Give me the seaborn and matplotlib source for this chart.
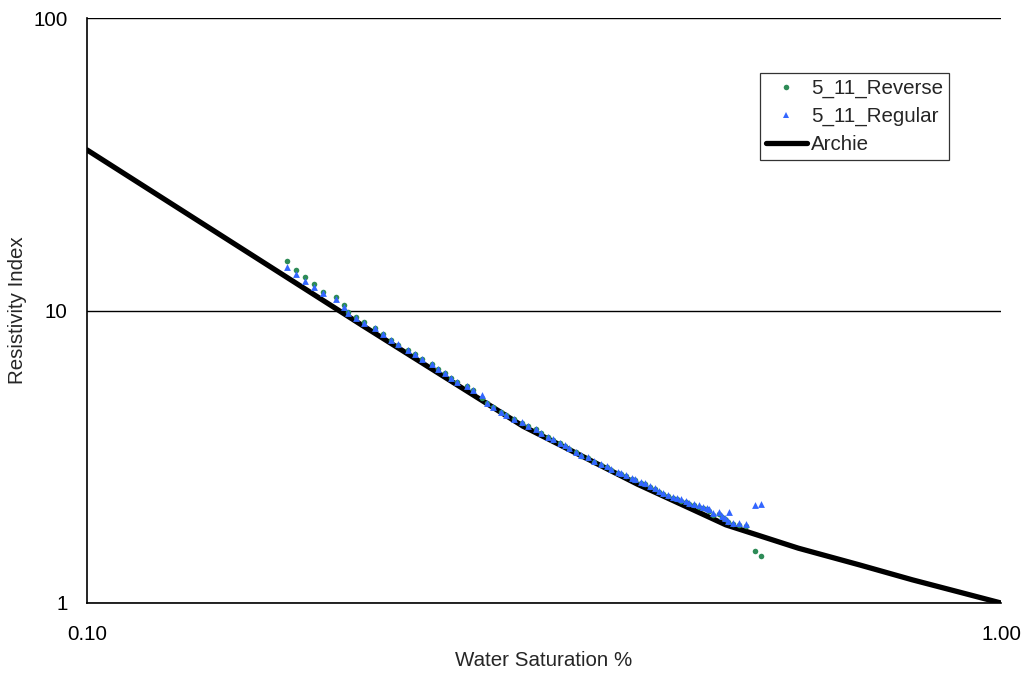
import matplotlib
matplotlib.use("Agg")
import matplotlib.pyplot as plt
import seaborn as sns
import pandas as pd
from matplotlib.ticker import FixedLocator, FixedFormatter, NullFormatter
from matplotlib.lines import Line2D

# ---- data ----
sw_regular = [0.1654, 0.1693, 0.1732, 0.1772, 0.1811, 0.1873, 0.1911, 0.1930, 0.1969, 0.2009,
              0.2067, 0.2109, 0.2149, 0.2189, 0.2247, 0.2285, 0.2326, 0.2385, 0.2423, 0.2464,
              0.2502, 0.2542, 0.2603, 0.2642, 0.2703, 0.2742, 0.2779, 0.2838, 0.2874, 0.2935,
              0.2995, 0.3036, 0.3097, 0.3136, 0.3192, 0.3232, 0.3292, 0.3331, 0.3370, 0.3428,
              0.3471, 0.3530, 0.3587, 0.3648, 0.3709, 0.3744, 0.3807, 0.3839, 0.3885, 0.3948,
              0.3981, 0.4038, 0.4082, 0.4130, 0.4179, 0.4222, 0.4271, 0.4325, 0.4380, 0.4424,
              0.4462, 0.4522, 0.4560, 0.4614, 0.4676, 0.4716, 0.4764, 0.4796, 0.4844, 0.4914,
              0.4947, 0.4989, 0.5030, 0.5043, 0.5086, 0.5168, 0.5260, 0.5382, 0.5463]
ri_regular = [14.12, 13.33, 12.64, 12.00, 11.45, 10.92, 10.28, 9.81, 9.45, 9.08,
              8.73, 8.29, 7.93, 7.66, 7.33, 7.09, 6.81, 6.55, 6.31, 6.13,
              5.89, 5.71, 5.52, 5.35, 5.14, 4.84, 4.67, 4.51, 4.39, 4.26,
              4.15, 4.04, 3.93, 3.82, 3.70, 3.63, 3.53, 3.46, 3.38, 3.29,
              3.21, 3.15, 3.06, 2.99, 2.94, 2.87, 2.81, 2.79, 2.74, 2.68,
              2.65, 2.60, 2.57, 2.51, 2.47, 2.42, 2.38, 2.34, 2.30, 2.28,
              2.26, 2.24, 2.20, 2.18, 2.16, 2.13, 2.12, 2.09, 2.03, 2.04,
              1.99, 1.95, 1.91, 2.05, 1.87, 1.87, 1.86, 2.16, 2.18]

sw_reverse = [0.1654, 0.1693, 0.1732, 0.1772, 0.1811, 0.1873, 0.1911, 0.1930, 0.1969, 0.2009,
              0.2067, 0.2109, 0.2149, 0.2189, 0.2247, 0.2285, 0.2326, 0.2385, 0.2423, 0.2464,
              0.2502, 0.2542, 0.2603, 0.2642, 0.2703, 0.2742, 0.2779, 0.2838, 0.2874, 0.2935,
              0.2995, 0.3036, 0.3097, 0.3136, 0.3192, 0.3232, 0.3292, 0.3331, 0.3370, 0.3428,
              0.3471, 0.3530, 0.3587, 0.3648, 0.3709, 0.3744, 0.3807, 0.3839, 0.3885, 0.3948,
              0.3981, 0.4038, 0.4082, 0.4130, 0.4179, 0.4222, 0.4271, 0.4325, 0.4380, 0.4424,
              0.4462, 0.4522, 0.4560, 0.4614, 0.4676, 0.4716, 0.4764, 0.4796, 0.4844, 0.4914,
              0.4947, 0.4989, 0.5030, 0.5086, 0.5168, 0.5260, 0.5382, 0.5463]
ri_reverse = [14.80, 13.76, 12.99, 12.29, 11.60, 11.08, 10.44, 9.91, 9.47, 9.10,
              8.74, 8.30, 7.92, 7.64, 7.32, 7.08, 6.80, 6.54, 6.30, 6.12,
              5.88, 5.70, 5.51, 5.33, 5.01, 4.83, 4.66, 4.50, 4.38, 4.25,
              4.14, 4.03, 3.92, 3.81, 3.69, 3.62, 3.52, 3.44, 3.36, 3.27,
              3.19, 3.13, 3.04, 2.97, 2.92, 2.85, 2.79, 2.77, 2.72, 2.66,
              2.63, 2.58, 2.55, 2.49, 2.45, 2.40, 2.36, 2.32, 2.28, 2.26,
              2.24, 2.21, 2.18, 2.16, 2.13, 2.11, 2.09, 2.06, 2.00, 2.01,
              1.97, 1.93, 1.89, 1.86, 1.85, 1.84, 1.51, 1.45]

sw_archie = [0.1, 0.2, 0.3, 0.4, 0.5, 0.6, 0.7, 0.8, 0.9, 1.0]
ri_archie = [35.4, 8.9, 4.02, 2.55, 1.85, 1.54, 1.35, 1.20, 1.09, 1.0]

x_ticks = [0.1, 1.0]
x_tick_labels = ["0.10", "1.00"]
y_ticks = [1, 10, 100]
y_tick_labels = ["1", "10", "100"]

series_names = ["5_11_Reverse", "5_11_Regular", "Archie"]
GREEN = "#2e8b57"
BLUE = "#3366ff"

# ---- plot ----
sns.set_style("white")
plt.rcParams["font.family"] = ["Liberation Sans", "DejaVu Sans"]
FS = 14.8

df_rev = pd.DataFrame({"Sw": sw_reverse, "RI": ri_reverse})
df_reg = pd.DataFrame({"Sw": sw_regular, "RI": ri_regular})
df_arc = pd.DataFrame({"Sw": sw_archie, "RI": ri_archie})

fig = plt.figure(figsize=(10.21, 6.73), dpi=100)
ax = fig.add_axes([87 / 1021, 1 - 603 / 673, 914 / 1021, 585 / 673])

ax.set_xscale("log")
ax.set_yscale("log")

sns.lineplot(data=df_arc, x="Sw", y="RI", sort=False, estimator=None, color="black",
             linewidth=3.8, ax=ax, zorder=2, legend=False)
sns.scatterplot(data=df_rev, x="Sw", y="RI", marker="o", color=GREEN, s=16,
                linewidth=0, ax=ax, zorder=3, legend=False)
sns.scatterplot(data=df_reg, x="Sw", y="RI", marker="^", color=BLUE, s=24,
                linewidth=0, ax=ax, zorder=4, legend=False)

ax.set_xlim(0.1, 1.0)
ax.set_ylim(1, 100)

ax.xaxis.set_major_locator(FixedLocator(x_ticks))
ax.xaxis.set_major_formatter(FixedFormatter(x_tick_labels))
ax.xaxis.set_minor_locator(FixedLocator([0.2, 0.3, 0.4, 0.5, 0.6, 0.7, 0.8, 0.9]))
ax.xaxis.set_minor_formatter(NullFormatter())
ax.yaxis.set_major_locator(FixedLocator(y_ticks))
ax.yaxis.set_major_formatter(FixedFormatter(y_tick_labels))
ax.yaxis.set_minor_locator(FixedLocator([2, 3, 4, 5, 6, 7, 8, 9, 20, 30, 40, 50, 60, 70, 80, 90]))
ax.yaxis.set_minor_formatter(NullFormatter())

ax.tick_params(axis="both", which="both", direction="in", colors="black", labelsize=FS)
ax.tick_params(axis="both", which="major", length=0)
ax.tick_params(axis="both", which="minor", length=4, width=0.8)
ax.tick_params(axis="x", which="major", pad=16)
ax.tick_params(axis="y", which="major", pad=14)

ax.grid(False)
ax.yaxis.grid(True, which="major", color="black", linewidth=1.0)
for side in ["left", "bottom"]:
    ax.spines[side].set_color("black")
    ax.spines[side].set_linewidth(1.2)
for side in ["top", "right"]:
    ax.spines[side].set_visible(False)

ax.set_xlabel("Water Saturation %", fontsize=FS, va="center")
ax.set_ylabel("Resistivity Index", fontsize=FS, va="center")
ax.xaxis.set_label_coords(0.5, -(660 - 603) / 585)
ax.yaxis.set_label_coords(-(87 - 18) / 914, 0.5)

handles = [
    Line2D([], [], linestyle="none", marker="o", markersize=4, color=GREEN, markeredgewidth=0),
    Line2D([], [], linestyle="none", marker="^", markersize=5, color=BLUE, markeredgewidth=0),
    Line2D([], [], color="black", linewidth=3.8),
]
leg = ax.legend(handles, series_names, loc="upper left", bbox_to_anchor=(0.736, 0.906),
                borderaxespad=0, fontsize=FS, frameon=True, fancybox=False,
                handlelength=2.0, handletextpad=0.2, labelspacing=0.42, borderpad=0.3)
leg.get_frame().set_edgecolor("black")
leg.get_frame().set_linewidth(0.9)

fig.savefig("out.png", dpi=100)
